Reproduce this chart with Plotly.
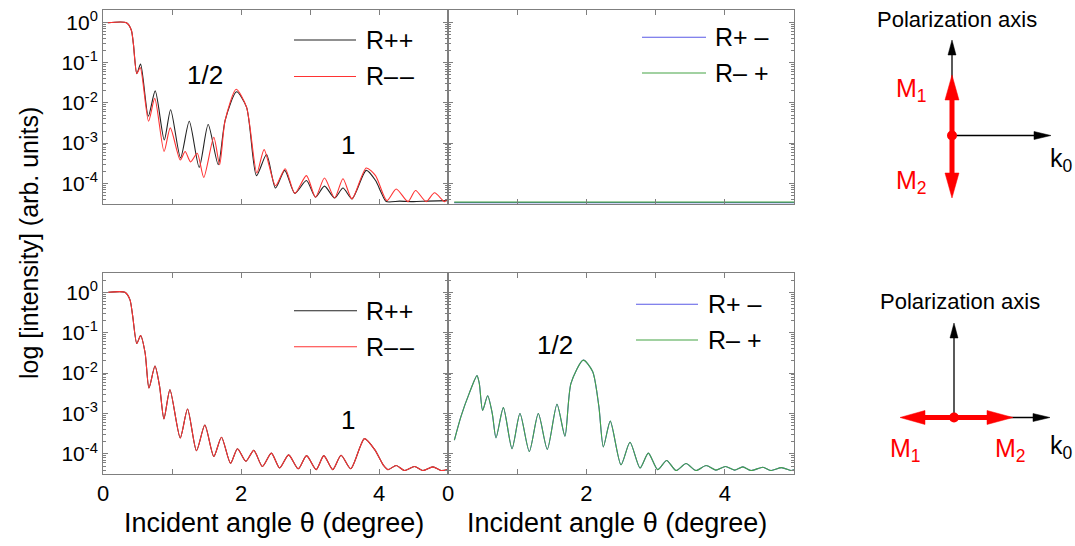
import plotly.graph_objects as go

W, H = 1075, 546

# ---------------- data ----------------
# top-left panel (R++ black, R-- red)
tl_pp_x = [0.07, 0.34, 0.41, 0.44, 0.49, 0.545, 0.657, 0.757, 0.888, 0.98, 1.124, 1.25, 1.394, 1.524, 1.67, 1.77,
           1.935, 2.08, 2.224, 2.37, 2.50, 2.634, 2.78, 2.948, 3.08, 3.21, 3.357, 3.478, 3.608, 3.815, 3.95, 4.03,
           4.105, 4.3, 4.5, 4.7, 5.0]
tl_pp_y = [1.0, 1.0, 0.66, 0.30, 0.054, 0.093, 4.7e-3, 0.020, 1.2e-3, 6.8e-3, 4.3e-4, 3.5e-3, 2.5e-4, 2.9e-3, 2.9e-4, 3.7e-3,
           0.019, 7.9e-3, 1.55e-4, 5.2e-4, 7.6e-5, 2.1e-4, 5.6e-5, 1.17e-4, 4.5e-5, 8.5e-5, 4.3e-5, 7.6e-5, 4.1e-5, 2.1e-4, 1.17e-4, 6.0e-5,
           3.5e-5, 3.6e-5, 3.5e-5, 3.6e-5, 3.7e-5]
tl_mm_x = [0.07, 0.34, 0.41, 0.44, 0.49, 0.54, 0.66, 0.75, 0.885, 0.975, 1.12, 1.19, 1.27, 1.366, 1.46, 1.606, 1.69, 1.77,
           1.93, 2.08, 2.23, 2.335, 2.50, 2.64, 2.78, 2.948, 3.08, 3.21, 3.357, 3.478, 3.608, 3.815, 3.95,
           4.115, 4.25, 4.42, 4.53, 4.684, 4.805, 4.95, 5.0]
tl_mm_y = [1.0, 1.0, 0.66, 0.30, 0.054, 0.076, 3.5e-3, 0.013, 6.2e-4, 2.4e-3, 3.8e-4, 6.2e-4, 3.4e-4, 5.6e-4, 1.4e-4, 1.4e-3, 2.9e-4, 3.7e-3,
           0.022, 7.9e-3, 1.8e-4, 6.9e-4, 8.7e-5, 2.3e-4, 5.6e-5, 1.55e-4, 4.5e-5, 1.35e-4, 4.3e-5, 1.3e-4, 4.1e-5, 2.4e-4, 1.55e-4,
           3.7e-5, 7.2e-5, 3.5e-5, 6.6e-5, 3.5e-5, 5.8e-5, 3.5e-5, 4.3e-5]

# top-right panel (R+- blue, R-+ green): flat background
tr_x = [0.09, 5.0]
tr_pm_y = [3.3e-5, 3.3e-5]
tr_mp_y = [3.4e-5, 3.4e-5]

# bottom-left panel (R++ and R-- coincide)
bl_x = [0.077, 0.318, 0.39, 0.43, 0.49, 0.545, 0.61, 0.666, 0.753, 0.82, 0.883, 0.97, 1.119, 1.225, 1.355, 1.476,
        1.606, 1.717, 1.848, 1.949, 2.07, 2.185, 2.31, 2.44, 2.56, 2.69, 2.83, 2.95, 3.09, 3.20, 3.33, 3.45, 3.59,
        3.79, 3.94, 4.06, 4.13, 4.25, 4.37, 4.515, 4.635, 4.78, 4.90, 5.0]
bl_y = [1.0, 1.0, 0.66, 0.26, 0.054, 0.085, 0.032, 4.3e-3, 0.015, 4.7e-3, 7.4e-4, 3.9e-3, 2.5e-4, 1.3e-3, 1.2e-4, 5.2e-4,
        8.7e-5, 2.6e-4, 5.9e-5, 1.35e-4, 6.6e-5, 1.23e-4, 4.9e-5, 1.05e-4, 4.5e-5, 9.5e-5, 4.3e-5, 9.1e-5, 4.1e-5, 9.1e-5, 4.1e-5, 9.3e-5, 4.3e-5,
        2.4e-4, 1.26e-4, 5.4e-5, 4.1e-5, 5.2e-5, 3.9e-5, 4.9e-5, 3.9e-5, 4.8e-5, 3.9e-5, 4.1e-5]

# bottom-right panel (R+- and R-+ coincide)
br_x = [0.092, 0.188, 0.308, 0.419, 0.452, 0.50, 0.573, 0.64, 0.694, 0.80, 0.925, 1.04, 1.175, 1.305, 1.435, 1.575,
        1.69, 1.777, 1.955, 2.09, 2.18, 2.245, 2.345, 2.50, 2.63, 2.775, 2.895, 3.03, 3.16, 3.295, 3.44, 3.584,
        3.73, 3.87, 4.01, 4.14, 4.26, 4.38, 4.55, 4.67, 4.82, 4.96, 5.0]
br_y = [2.2e-4, 8.5e-4, 3.2e-3, 8.7e-3, 5.6e-3, 1.2e-3, 2.75e-3, 1.0e-3, 2.5e-4, 1.4e-3, 1.35e-4, 1.0e-3, 1.15e-4, 1.0e-3, 1.3e-4, 1.7e-3,
        2.75e-4, 5.6e-3, 0.021, 0.011, 1.5e-3, 1.5e-4, 6.5e-4, 5.4e-5, 1.95e-4, 4.5e-5, 1.05e-4, 4.1e-5, 6.9e-5, 3.9e-5, 5.8e-5, 3.9e-5,
        5.2e-5, 4.0e-5, 4.9e-5, 4.0e-5, 4.8e-5, 3.9e-5, 4.7e-5, 3.9e-5, 4.6e-5, 3.9e-5, 4.1e-5]

x_tickvals = [0, 2, 4]
x_ticktext = ["0", "2", "4"]
y_tickvals = [1, 0.1, 0.01, 1e-3, 1e-4]
y_ticktext = ["10<sup>0</sup>", "10<sup>-1</sup>", "10<sup>-2</sup>", "10<sup>-3</sup>", "10<sup>-4</sup>"]

legend_top_left = ["R++", "R\u2013\u200a\u2013"]
legend_right = ["R+ \u2013", "R\u2013 +"]

C_BLACK = "#222222"
C_RED = "#ff3333"
C_BLUE = "#5a5ae6"
C_GREEN = "#44a444"
FONT = "Liberation Sans, Arial, sans-serif"
FRAME = "#7f7f7f"


def PX(x):
    return x / W


def PY(y):
    return 1 - y / H


fig = go.Figure()

def add(xs, ys, color, xa, ya, name):
    fig.add_trace(go.Scatter(x=xs, y=ys, mode="lines", name=name, showlegend=False,
                             line=dict(color=color, width=1.1, shape="spline", smoothing=0.7),
                             xaxis=xa, yaxis=ya, hoverinfo="skip"))

add(tl_pp_x, tl_pp_y, C_BLACK, "x", "y", "R++")
add(tl_mm_x, tl_mm_y, C_RED, "x", "y", "R--")
add(tr_x, tr_pm_y, C_BLUE, "x2", "y2", "R+-")
add(tr_x, tr_mp_y, C_GREEN, "x2", "y2", "R-+")
add(bl_x, bl_y, C_BLACK, "x3", "y3", "R++")
add(bl_x, bl_y, C_RED, "x3", "y3", "R--")
add(br_x, br_y, C_BLUE, "x4", "y4", "R+-")
add(br_x, br_y, C_GREEN, "x4", "y4", "R-+")

xdoms = {"L": [PX(103), PX(448)], "R": [PX(448), PX(794)]}
ydoms = {"T": [PY(204), PY(10)], "B": [PY(474), PY(273.3)]}
yranges = {"T": [-4.516, 0.316], "B": [-4.495, 0.47]}

panels = [("", "L", "T", False, True), ("2", "R", "T", False, False),
          ("3", "L", "B", True, True), ("4", "R", "B", True, False)]

layout = {}
for suf, xc, yc, xlab, ylab in panels:
    layout["xaxis" + suf] = dict(
        domain=xdoms[xc], range=[0, 5], anchor="y" + suf, showgrid=False, zeroline=False,
        showline=True, linecolor=FRAME, linewidth=1, mirror="ticks", ticks="inside", ticklen=5,
        tickcolor=FRAME, tickvals=x_tickvals, ticktext=x_ticktext, showticklabels=xlab,
        minor=dict(ticks="inside", ticklen=5, tickcolor=FRAME, dtick=1, tick0=0, showgrid=False),
        tickfont=dict(family=FONT, size=22, color="black"), automargin=False, fixedrange=True)
    layout["yaxis" + suf] = dict(
        domain=ydoms[yc], type="log", range=yranges[yc], anchor="x" + suf, showgrid=False,
        zeroline=False, showline=True, linecolor=FRAME, linewidth=1, mirror="ticks",
        ticks="inside", ticklen=5, tickcolor=FRAME, tickvals=y_tickvals, ticktext=y_ticktext,
        showticklabels=ylab, tickfont=dict(family=FONT, size=21, color="black"),
        minor=dict(ticks="inside", ticklen=3, tickcolor=FRAME, dtick="D1", showgrid=False),
        automargin=False, fixedrange=True)

shapes = []
annotations = []

# legends drawn as samples
def legend(x0, x1, ytop, ybot, colors, labels, tx):
    for yy, c, lab in zip([ytop, ybot], colors, labels):
        shapes.append(dict(type="line", xref="paper", yref="paper", x0=PX(x0), x1=PX(x1),
                           y0=PY(yy), y1=PY(yy), line=dict(color=c, width=1.1)))
        annotations.append(dict(xref="paper", yref="paper", x=PX(tx), y=PY(yy), text=lab,
                                showarrow=False, xanchor="left", yanchor="middle",
                                font=dict(family=FONT, size=25, color="black")))

legend(294, 356, 40, 76.5, [C_BLACK, C_RED], legend_top_left, 364)
legend(642, 706, 37.3, 73, [C_BLUE, C_GREEN], legend_right, 713)
legend(294, 357, 310.7, 346.7, [C_BLACK, C_RED], legend_top_left, 364)
legend(636, 698, 304.3, 340, [C_BLUE, C_GREEN], legend_right, 706)

def txt(x, y, s, size=25, color="black", xanchor="center", angle=0):
    annotations.append(dict(xref="paper", yref="paper", x=PX(x), y=PY(y), text=s, showarrow=False,
                            xanchor=xanchor, yanchor="middle", textangle=angle,
                            font=dict(family=FONT, size=size, color=color)))

txt(205, 75, "1/2", size=26)
txt(348, 145, "1", size=26)
txt(348, 420, "1", size=26)
txt(555, 345, "1/2", size=26)

# axis titles
txt(274, 523, "Incident angle \u03b8 (degree)", size=27)
txt(617, 523, "Incident angle \u03b8 (degree)", size=27)
txt(29, 243, "log [intensity] (arb. units)", size=25, angle=-90)

# diagrams
def line(x0, y0, x1, y1, color, w):
    shapes.append(dict(type="line", xref="paper", yref="paper", x0=PX(x0), y0=PY(y0), x1=PX(x1), y1=PY(y1),
                       line=dict(color=color, width=w)))

def tri(pts, color):
    p = "M " + " L ".join(f"{PX(a):.5f},{PY(b):.5f}" for a, b in pts) + " Z"
    shapes.append(dict(type="path", xref="paper", yref="paper", path=p, fillcolor=color,
                       line=dict(color=color, width=0.5)))

def dot(x, y, r, color):
    shapes.append(dict(type="circle", xref="paper", yref="paper", x0=PX(x - r), x1=PX(x + r),
                       y0=PY(y + r), y1=PY(y - r), fillcolor=color, line=dict(color=color, width=0)))

RED = "#ff0000"
# top diagram
cx, cy = 952, 135.5
line(cx, cy, cx, 55, "black", 1.3)
tri([(cx, 40), (cx - 4, 55), (cx + 4, 55)], "black")
line(cx, cy, 1034, cy, "black", 1.3)
tri([(1051, cy), (1034, cy - 4), (1034, cy + 4)], "black")
line(cx, cy, cx, 99, RED, 5)
tri([(cx, 75), (cx - 7, 100), (cx + 7, 100)], RED)
line(cx, cy, cx, 173, RED, 5)
tri([(cx, 198), (cx - 7, 173), (cx + 7, 173)], RED)
dot(cx, cy, 5, RED)
txt(957, 20, "Polarization axis", size=22)
txt(929, 90, "M<sub>1</sub>", size=25, color=RED, xanchor="right")
txt(929, 182, "M<sub>2</sub>", size=25, color=RED, xanchor="right")
txt(1048, 160, "k<sub>0</sub>", size=25, xanchor="left")

# bottom diagram
cx, cy = 954, 417.5
line(cx, cy, cx, 338, "black", 1.3)
tri([(cx, 323), (cx - 4, 338), (cx + 4, 338)], "black")
line(cx, cy, 1033, cy, "black", 1.3)
tri([(1050, cy), (1033, cy - 4), (1033, cy + 4)], "black")
line(925, cy, 987, cy, RED, 5)
tri([(900, cy), (925, cy - 7), (925, cy + 7)], RED)
tri([(1013, cy), (987, cy - 7), (987, cy + 7)], RED)
dot(cx, cy, 5, RED)
txt(960, 301, "Polarization axis", size=22)
txt(888, 450, "M<sub>1</sub>", size=25, color=RED, xanchor="left")
txt(993, 450, "M<sub>2</sub>", size=25, color=RED, xanchor="left")
txt(1048, 447, "k<sub>0</sub>", size=25, xanchor="left")

fig.update_layout(width=W, height=H, margin=dict(l=0, r=0, t=0, b=0), paper_bgcolor="white",
                  plot_bgcolor="white", showlegend=False, shapes=shapes, annotations=annotations,
                  font=dict(family=FONT), **layout)

fig.write_html("out.html", config={"displayModeBar": False},
               post_script="document.body.style.margin='0px';document.body.style.padding='0px';")
